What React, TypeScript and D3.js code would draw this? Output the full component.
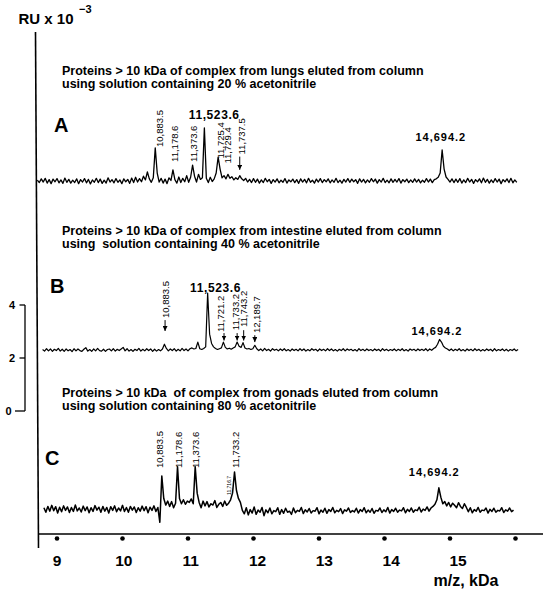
import React from 'react';
import * as d3 from 'd3';

// ---- data ----
const step = 0.03; // kDa per sample
const traceStarts = [8.70, 8.78, 8.80]; // m/z of first sample (A, B, C)
const traceBaselines = [8.68, 2.30, -3.70]; // RU x 10^-3 offset of each panel

// intensities in hundredths of RU x 10^-3 above each panel baseline
const traceA = [
  3,-6,8,-4,10,-8,5,-10,7,-3,9,-7,4,-9,11,-5,6,-8,3,-6,
  8,-10,5,-4,9,-7,6,-11,4,-5,10,-6,7,-9,3,-8,12,-4,5,-7,
  9,-5,4,-10,8,-3,6,-9,11,-6,14,-4,9,-3,18,4,
  34,
  8,-5,12,
  125,
  30,-4,10,-8,7,-10,12,2,
  42,
  5,-8,15,-6,10,-3,20,-5,14,
  60,
  18,-4,25,6,12,
  200,
  10,-6,14,-2,8,30,
  90,
  45,12,20,8,
  25,
  10,16,4,12,6,
  20,
  8,2,10,-4,6,-6,9,
  -5,7,-8,4,-6,10,-3,6,-9,5,-4,8,-7,3,-5,9,-8,4,-3,7,
  -6,5,-9,8,-4,6,-7,10,-5,3,-8,7,-4,9,-6,5,-3,8,-7,4,
  -5,10,-6,3,-8,6,-4,9,-5,7,-3,5,-9,8,-4,6,-7,4,-5,9,
  -3,7,-8,5,-4,10,-6,3,-7,8,-5,6,-4,9,-8,5,-3,7,-6,4,
  -5,8,-4,6,-7,3,-5,9,-4,7,-6,5,8,14,30,
  117,
  45,15,6,-4,8,-6,
  7,-5,9,-8,4,-6,10,-4,6,-9,5,-3,8,-7,11,-5,6,-8,4,-6,
  9,-4,7,-10,5,-3,8,-6,10,-7,4,-5,
];

const traceB = [
  2,-4,5,-3,4,-5,3,-2,6,-4,3,-5,4,-3,2,-6,5,-3,4,-2,
  -5,3,9,-4,2,-5,4,-3,6,-2,-4,3,-5,2,4,-3,5,-4,3,-2,
  4,10,-3,5,-4,2,-5,3,-2,6,-4,3,-3,5,-2,4,-5,3,-4,2,
  -3,4,
  22,
  6,-3,4,-2,5,-4,3,-3,6,-2,4,-3,5,8,4,6,
  30,
  5,2,6,12,
  215,
  60,25,12,
  6,2,5,8,
  30,
  10,4,7,3,8,12,
  30,
  14,10,
  28,
  8,4,6,2,5,
  18,
  5,-2,4,-3,6,-2,3,-4,5,-1,3,-3,4,-2,5,-3,2,-4,4,-2,
  3,-3,5,-2,4,-4,2,-3,5,-1,3,-4,4,-2,3,-3,5,-2,4,-3,
  2,-4,3,-2,5,-3,4,-1,3,-3,2,-4,5,-2,3,-3,4,-2,2,-3,
  4,-2,3,-4,5,-2,3,-3,2,-2,4,-3,3,-2,5,-3,2,-4,4,-1,
  3,-3,4,-2,3,-2,5,-3,4,-1,6,10,
  22,40,
  30,14,8,4,
  -2,4,-3,3,-2,5,-3,2,-4,4,-2,3,-3,5,-2,3,-4,2,-3,4,
  -2,3,-4,5,-3,2,-2,4,-3,3,-4,2,-2,4,-3,2,
];

const traceC = [
  5,-12,10,-8,14,-6,9,-15,7,-10,12,-5,8,-13,6,-9,15,-7,4,-11,
  11,-6,8,-14,5,-9,13,-4,7,-12,10,-8,6,-15,9,-5,12,-10,4,-7,
  14,-9,6,-12,10,-4,8,-13,5,-8,11,-6,9,-14,7,-5,12,-9,6,
  -50,125,40,
  15,30,10,28,5,22,
  160,
  40,20,35,18,30,25,38,20,
  160,60,
  25,5,30,12,28,8,20,15,32,6,18,25,10,30,14,22,35,
  60,140,
  70,40,25,
  -5,-18,5,-22,-2,-15,8,-20,-4,-12,6,-25,-3,-14,4,-18,-6,-10,5,-20,
  -2,-16,3,-12,-8,-20,4,-14,-5,-9,6,-17,-3,-11,2,-15,-6,-8,5,-18,
  -4,-12,3,-16,-2,-9,6,-14,-5,-10,2,-17,-3,-8,4,-13,-6,-11,3,-15,
  -2,-9,5,-14,-4,-12,2,-16,-5,-8,4,-13,-3,-10,6,-15,-2,-9,3,-12,
  -4,-7,5,-14,-1,-9,4,-12,-3,-6,7,-11,0,-5,8,-8,4,10,18,
  35,80,45,
  20,28,12,25,8,22,14,5,24,10,2,20,6,
  -10,5,-14,-2,-8,6,-12,-4,-6,4,-15,-1,-9,3,-12,-5,-7,5,-13,-3,-8,4,-10,-4,
];

const xTickLabels = [9, 10, 11, 12, 13, 14, 15];
const xTickDots = [9, 10, 11, 12, 13, 14, 15, 16];
const scaleBarTicks = [4, 2, 0];

const panelLetters = ['A', 'B', 'C'];
const panelTitles = [
  ['Proteins > 10 kDa of complex from lungs eluted from column', 'using solution containing 20 % acetonitrile'],
  ['Proteins > 10 kDa of complex from intestine eluted from column', 'using  solution containing 40 % acetonitrile'],
  ['Proteins > 10 kDa  of complex from gonads eluted from column', 'using solution containing 80 % acetonitrile'],
];

// peak annotations: m/z position on axis, height (RU above panel baseline)
const verticalLabelsA = [
  { t: '10,883.5', mz: 10.56, ru: 1.28 },
  { t: '11,178.6', mz: 10.79, ru: 0.72 },
  { t: '11,373.6', mz: 11.08, ru: 0.72 },
  { t: '11,725.4', mz: 11.49, ru: 0.85 },
  { t: '11,729.4', mz: 11.61, ru: 0.66 },
  { t: '11,737.5', mz: 11.81, ru: 1.0 },
];
const verticalLabelsB = [
  { t: '10,883.5', mz: 10.66, ru: 1.21 },
  { t: '11,721.2', mz: 11.49, ru: 0.68 },
  { t: '11,733.2', mz: 11.72, ru: 0.75 },
  { t: '11,743.2', mz: 11.84, ru: 0.87 },
  { t: '12,189.7', mz: 12.05, ru: 0.64 },
];
const verticalLabelsC = [
  { t: '10,883.5', mz: 10.57, ru: 1.55 },
  { t: '11,178.6', mz: 10.85, ru: 1.55 },
  { t: '11,373.6', mz: 11.12, ru: 1.55 },
  { t: '11,733.2', mz: 11.72, ru: 1.55 },
];
const tinyLabelsC = [{ t: '11,716.7', mz: 11.63, ru: 0.53 }];

const horizontalLabelsA = [
  { t: '11,523.6', mz: 11.40, ru: 2.34 },
  { t: '14,694.2', mz: 14.86, ru: 1.51 },
];
const horizontalLabelsB = [
  { t: '11,523.6', mz: 11.42, ru: 2.19 },
  { t: '14,694.2', mz: 14.80, ru: 0.55 },
];
const horizontalLabelsC = [{ t: '14,694.2', mz: 14.76, ru: 1.25 }];

const arrowsA = [{ mz: 11.79, from: 0.92, to: 0.42 }];
const arrowsB = [
  { mz: 10.65, from: 1.13, to: 0.72 },
  { mz: 11.55, from: 0.64, to: 0.36 },
  { mz: 11.75, from: 0.64, to: 0.36 },
  { mz: 11.85, from: 0.75, to: 0.36 },
  { mz: 12.02, from: 0.56, to: 0.3 },
];

const FONT = "'Liberation Sans', Arial, Helvetica, sans-serif";

export default function App() {
  const x = d3.scaleLinear().domain([9, 15]).range([57, 450]);
  const xLab = d3.scaleLinear().domain([9, 15]).range([57, 458]);
  const y = d3.scaleLinear().domain([0, 4]).range([411, 305]);

  const traces = [traceA, traceB, traceC];
  const vLabels = [verticalLabelsA, verticalLabelsB, verticalLabelsC];
  const hLabels = [horizontalLabelsA, horizontalLabelsB, horizontalLabelsC];
  const arrows = [arrowsA, arrowsB, []];

  const titleBaselines = [75, 234.5, 396.5];
  const letterPos = [[54, 132], [50, 293], [45, 465]];
  const vFont = [9.5, 9.5, 9.5];
  const traceWidth = [1.3, 1.2, 1.5];

  const linePath = (k: number) =>
    d3
      .line<number>()
      .x((_, i) => x(traceStarts[k] + i * step))
      .y((d) => y(traceBaselines[k] + d / 100))(traces[k]) || '';

  return (
    <svg
      width={550}
      height={593}
      style={{ position: 'absolute', left: 0, top: 0, background: '#fff' }}
      fontFamily={FONT}
    >
      <defs>
        <marker id="ah" viewBox="0 0 6 6" refX={6} refY={3} markerWidth={5} markerHeight={5} orient="auto" markerUnits="userSpaceOnUse">
          <path d="M0,0 L6,3 L0,6 z" fill="#000" />
        </marker>
      </defs>
      <rect x={0} y={0} width={550} height={593} fill="#fff" />

      {/* y unit label */}
      <text x={18.5} y={23.5} fontSize={15} fontWeight="bold">RU x 10</text>
      <text x={79} y={13} fontSize={11} fontWeight="bold">−3</text>

      {/* main axes */}
      <line x1={35.5} y1={32} x2={38.5} y2={548} stroke="#000" strokeWidth={1.6} />
      <line x1={38} y1={534} x2={543} y2={534} stroke="#000" strokeWidth={1.6} />

      {xTickDots.map((v) => (
        <circle key={'d' + v} cx={x(v)} cy={538.5} r={2.3} fill="#000" />
      ))}
      {xTickLabels.map((v) => (
        <text key={'t' + v} x={xLab(v)} y={566} fontSize={15.5} fontWeight="bold" textAnchor="middle">
          {v}
        </text>
      ))}
      <text x={466} y={586} fontSize={16} fontWeight="bold" textAnchor="middle">m/z, kDa</text>

      {/* scale bar */}
      <line x1={25} y1={y(4)} x2={25} y2={y(0)} stroke="#000" strokeWidth={1.3} />
      {scaleBarTicks.map((v) => (
        <g key={'s' + v}>
          <line x1={v === 0 ? 15 : 19.5} y1={y(v)} x2={25} y2={y(v)} stroke="#000" strokeWidth={1.3} />
          <text x={v === 0 ? 11.5 : 15} y={y(v) + 4} fontSize={11} fontWeight="bold" textAnchor="end">
            {v}
          </text>
        </g>
      ))}

      {[0, 1, 2].map((k) => (
        <g key={'p' + k}>
          {panelTitles[k].map((s, j) => (
            <text
              key={j}
              x={62}
              y={titleBaselines[k] + j * 13}
              fontSize={12.5}
              fontWeight="bold"
              style={{ whiteSpace: 'pre' }}
            >
              {s}
            </text>
          ))}
          <text x={letterPos[k][0]} y={letterPos[k][1]} fontSize={20} fontWeight="bold">
            {panelLetters[k]}
          </text>
          <path d={linePath(k)} fill="none" stroke="#000" strokeWidth={traceWidth[k]} strokeLinejoin="round" />
          {vLabels[k].map((l) => (
            <text
              key={l.t + l.mz}
              transform={`translate(${x(l.mz) + 3.5},${y(traceBaselines[k] + l.ru)}) rotate(-90)`}
              fontSize={vFont[k]}
              fill="#000"
            >
              {l.t}
            </text>
          ))}
          {hLabels[k].map((l) => (
            <text
              key={l.t + l.mz}
              x={x(l.mz)}
              y={y(traceBaselines[k] + l.ru)}
              fontSize={l.t === '11,523.6' ? 12 : 11}
              fontWeight="bold"
              letterSpacing={l.t === '11,523.6' ? 0.6 : 1}
              textAnchor="middle"
            >
              {l.t}
            </text>
          ))}
          {arrows[k].map((a) => (
            <line
              key={'a' + a.mz}
              x1={x(a.mz)}
              y1={y(traceBaselines[k] + a.from)}
              x2={x(a.mz)}
              y2={y(traceBaselines[k] + a.to)}
              stroke="#000"
              strokeWidth={1}
              markerEnd="url(#ah)"
            />
          ))}
        </g>
      ))}
      {tinyLabelsC.map((l) => (
        <text
          key={l.t}
          transform={`translate(${x(l.mz) + 2},${y(traceBaselines[2] + l.ru)}) rotate(-90)`}
          fontSize={5}
        >
          {l.t}
        </text>
      ))}
    </svg>
  );
}
